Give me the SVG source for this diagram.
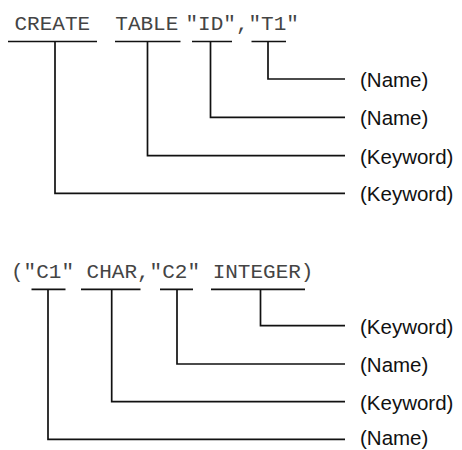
<svg xmlns="http://www.w3.org/2000/svg" width="462" height="450" viewBox="0 0 462 450">
<style>
.code{font-family:"Liberation Mono","Courier New",monospace;font-size:21px;fill:#444}
.lbl{font-family:"Liberation Sans",Arial,sans-serif;font-size:20.5px;fill:#111}
.ln{fill:none;stroke:#111;stroke-width:1.7}
</style>
<rect width="462" height="450" fill="#fff"/>
<g id="statement1">
<text class="code" x="14.5" y="30" xml:space="preserve">CREATE  TABLE</text>
<text class="code" x="185.5" y="30">"ID","T1"</text>
</g>
<g id="statement2">
<text class="code" x="11" y="277.5" xml:space="preserve">("C1" CHAR,"C2" INTEGER)</text>
</g>
<g id="connectors">
<path class="ln" d="M8,41.5H97 M115,41.5H180.5 M192,41.5H232 M251.5,41.5H286"/>
<path class="ln" d="M268,41.5V79H345 M210.5,41.5V117.3H345 M147.5,41.5V155.7H345 M55,41.5V193.3H345"/>
<path class="ln" d="M31.5,289.3H65.5 M81,289.3H140.5 M160,289.3H193 M211,289.3H305"/>
<path class="ln" d="M260.5,289.3V325.7H345 M177,289.3V364H345 M111.7,289.3V401.7H345 M48,289.3V439.3H345"/>
</g>
<g id="label-t1"><text class="lbl" x="360" y="87">(Name)</text></g>
<g id="label-id"><text class="lbl" x="360" y="125.3">(Name)</text></g>
<g id="label-table"><text class="lbl" x="360" y="163.7">(Keyword)</text></g>
<g id="label-create"><text class="lbl" x="360" y="201.3">(Keyword)</text></g>
<g id="label-integer"><text class="lbl" x="360" y="333.7">(Keyword)</text></g>
<g id="label-c2"><text class="lbl" x="360" y="372">(Name)</text></g>
<g id="label-char"><text class="lbl" x="360" y="409.7">(Keyword)</text></g>
<g id="label-c1"><text class="lbl" x="360" y="445">(Name)</text></g>
</svg>
